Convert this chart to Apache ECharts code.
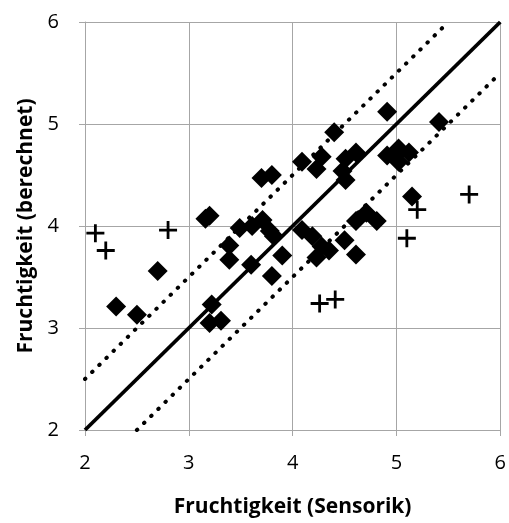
<!DOCTYPE html>
<html>
<head>
<meta charset="utf-8">
<script src="https://cdn.jsdelivr.net/npm/echarts@6/dist/echarts.min.js"></script>
<style>
  html, body { margin: 0; padding: 0; background: #fff; }
  #chart { width: 509px; height: 523px; }
</style>
</head>
<body>
<div id="chart"></div>
<script>
// Fruchtigkeit: Sensorik (x) vs. berechnet (y)
const diamonds = [
  [2.30, 3.21], [2.50, 3.13], [2.70, 3.56], [3.16, 4.07], [3.20, 4.10],
  [3.22, 3.23], [3.20, 3.05], [3.31, 3.07], [3.39, 3.81], [3.39, 3.67],
  [3.49, 3.98], [3.60, 3.62], [3.61, 4.00], [3.70, 4.47], [3.71, 4.06],
  [3.78, 3.95], [3.82, 3.90], [3.80, 4.50], [3.80, 3.51], [3.90, 3.71],
  [4.09, 4.63], [4.09, 3.96], [4.23, 4.56], [4.19, 3.90], [4.23, 3.69],
  [4.28, 4.68], [4.28, 3.80], [4.35, 3.76], [4.40, 4.92], [4.51, 4.66],
  [4.48, 4.54], [4.51, 4.45], [4.61, 4.72], [4.50, 3.86], [4.61, 4.05],
  [4.71, 4.13], [4.81, 4.05], [4.61, 3.72], [4.91, 5.12], [4.91, 4.69],
  [5.02, 4.76], [5.12, 4.72], [5.02, 4.63], [4.99, 4.69], [5.15, 4.29],
  [5.41, 5.02]
];
const crosses = [
  [2.10, 3.93], [2.20, 3.76], [2.80, 3.96], [4.26, 3.24], [4.41, 3.28],
  [5.10, 3.88], [5.20, 4.16], [5.70, 4.31]
];
const identityLine = [[2, 2], [6, 6]];
const upperBand = [[2, 2.5], [5.5, 6]];
const lowerBand = [[2.5, 2], [6, 5.5]];
const ticks = [2, 3, 4, 5, 6];

const chart = echarts.init(document.getElementById('chart'));
const font = '"Open Sans", "Noto Sans", sans-serif';
const gridColor = '#a6a6a6';

const axisCommon = {
  type: 'value',
  min: ticks[0],
  max: ticks[ticks.length - 1],
  interval: 1,
  nameLocation: 'middle',
  nameTextStyle: { fontFamily: font, fontSize: 21, fontWeight: 'bold', color: '#000' },
  axisLine: { show: true, lineStyle: { color: gridColor, width: 1 } },
  axisTick: { show: true, length: 6, lineStyle: { color: gridColor } },
  axisLabel: { fontFamily: font, fontSize: 20, color: '#000' },
  splitLine: { show: true, lineStyle: { color: gridColor, width: 1 } }
};

const option = {
  backgroundColor: '#ffffff',
  animation: false,
  grid: { left: 85, right: 5, top: 22, bottom: 88 },
  xAxis: Object.assign({}, axisCommon, {
    name: 'Fruchtigkeit (Sensorik)',
    nameGap: 67,
    axisLabel: Object.assign({}, axisCommon.axisLabel, { margin: 23 })
  }),
  yAxis: Object.assign({}, axisCommon, {
    name: 'Fruchtigkeit (berechnet)',
    nameGap: 48,
    axisLabel: Object.assign({}, axisCommon.axisLabel, { margin: 26 })
  }),
  series: [
    {
      type: 'line',
      data: upperBand,
      symbol: 'none',
      lineStyle: { color: '#000', width: 4, type: [0.5, 9.5], cap: 'round' },
      z: 2
    },
    {
      type: 'line',
      data: lowerBand,
      symbol: 'none',
      lineStyle: { color: '#000', width: 4, type: [0.5, 9.5], cap: 'round' },
      z: 2
    },
    {
      type: 'line',
      data: identityLine,
      symbol: 'none',
      lineStyle: { color: '#000', width: 3.8 },
      z: 2
    },
    {
      type: 'scatter',
      data: diamonds,
      symbol: 'diamond',
      symbolSize: 20,
      itemStyle: { color: '#000', opacity: 1 },
      z: 3
    },
    {
      type: 'scatter',
      data: crosses,
      symbol: 'path://M0,7.6H18V10.4H0Z M7.6,0H10.4V18H7.6Z',
      symbolSize: 18,
      itemStyle: { color: '#000', opacity: 1 },
      z: 3
    }
  ]
};

chart.setOption(option);
</script>
</body>
</html>
